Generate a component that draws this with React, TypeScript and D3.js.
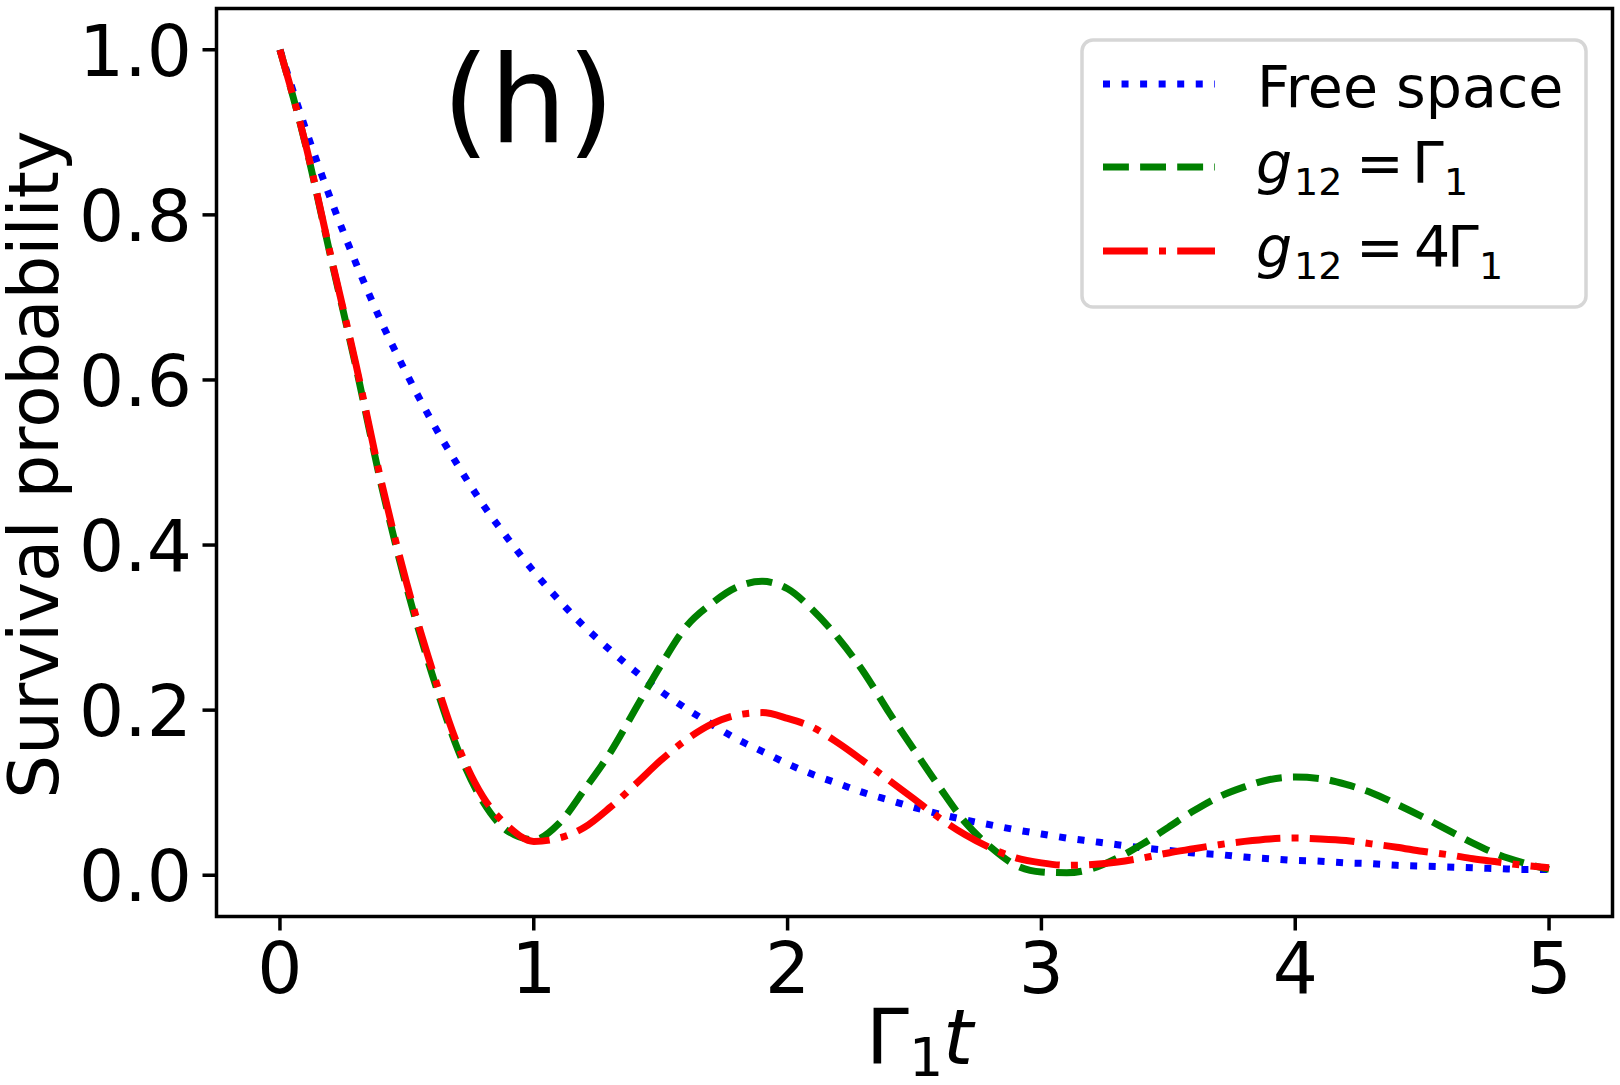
import { useRef, useEffect } from 'react';
import * as d3 from 'd3';

// Γ1 t sampling grid
const times = [
  0.0, 0.1, 0.2, 0.3, 0.4, 0.5, 0.6, 0.7, 0.8, 0.9,
  1.0, 1.1, 1.2, 1.3, 1.4, 1.5, 1.6, 1.7, 1.8, 1.9,
  2.0, 2.1, 2.2, 2.3, 2.4, 2.5, 2.6, 2.7, 2.8, 2.9,
  3.0, 3.1, 3.2, 3.3, 3.4, 3.5, 3.6, 3.7, 3.8, 3.9,
  4.0, 4.1, 4.2, 4.3, 4.4, 4.5, 4.6, 4.7, 4.8, 4.9,
  5.0,
];

const freeSpace = [
  1.0, 0.905, 0.819, 0.741, 0.67, 0.607, 0.549, 0.497, 0.449, 0.407,
  0.368, 0.333, 0.301, 0.273, 0.247, 0.223, 0.202, 0.183, 0.165, 0.15,
  0.135, 0.122, 0.111, 0.1, 0.091, 0.082, 0.074, 0.067, 0.061, 0.055,
  0.05, 0.045, 0.041, 0.037, 0.033, 0.03, 0.027, 0.025, 0.022, 0.02,
  0.018, 0.017, 0.015, 0.014, 0.012, 0.011, 0.01, 0.009, 0.008, 0.007,
  0.007,
];

const couplingOne = [
  1.0, 0.886, 0.749, 0.615, 0.472, 0.348, 0.243, 0.153, 0.089, 0.053,
  0.043, 0.063, 0.104, 0.148, 0.201, 0.254, 0.301, 0.329, 0.349, 0.356,
  0.347, 0.321, 0.287, 0.246, 0.197, 0.151, 0.106, 0.064, 0.034, 0.012,
  0.004, 0.003, 0.008, 0.021, 0.038, 0.058, 0.078, 0.095, 0.107, 0.116,
  0.119, 0.117, 0.11, 0.1, 0.086, 0.071, 0.055, 0.039, 0.025, 0.015,
  0.007,
];

const couplingFour = [
  1.0, 0.887, 0.751, 0.618, 0.476, 0.353, 0.249, 0.158, 0.095, 0.059,
  0.041, 0.045, 0.058, 0.082, 0.11, 0.139, 0.164, 0.183, 0.194, 0.197,
  0.19, 0.179, 0.16, 0.138, 0.115, 0.092, 0.069, 0.049, 0.033, 0.021,
  0.015, 0.012, 0.013, 0.016, 0.021, 0.027, 0.032, 0.037, 0.041, 0.044,
  0.045, 0.044, 0.042, 0.038, 0.034, 0.029, 0.025, 0.02, 0.016, 0.012,
  0.009,
];

const xTicks = [0, 1, 2, 3, 4, 5];
const yTicks = [0, 0.2, 0.4, 0.6, 0.8, 1.0];
const yTickLabels = ['0.0', '0.2', '0.4', '0.6', '0.8', '1.0'];

const FONT = '"DejaVu Sans", sans-serif';
const LW = 7;

const series = [
  { key: 'free', values: freeSpace, color: '#0000ff', dash: `${LW} ${LW * 1.65}` },
  { key: 'g1', values: couplingOne, color: '#008000', dash: `${LW * 3.7} ${LW * 1.6}` },
  { key: 'g4', values: couplingFour, color: '#ff0000', dash: `${LW * 6.4} ${LW * 1.6} ${LW} ${LW * 1.6}` },
];

export default function App() {
  const svgRef = useRef<SVGSVGElement>(null);

  useEffect(() => {
    if (!svgRef.current) return;
    const svg = d3.select(svgRef.current);
    svg.selectAll('*').remove();

    const left = 216.5;
    const right = 1612.5;
    const top = 8.5;
    const bottom = 916.5;

    const x = d3.scaleLinear().domain([-0.25, 5.25]).range([left, right]);
    const y = d3.scaleLinear().domain([-0.05, 1.05]).range([bottom, top]);

    svg.append('rect').attr('width', 1620).attr('height', 1085).attr('fill', '#fff');

    svg.append('defs').append('clipPath').attr('id', 'plot-clip')
      .append('rect')
      .attr('x', left).attr('y', top)
      .attr('width', right - left).attr('height', bottom - top);

    const line = d3.line<number>()
      .x((_, i) => x(times[i]))
      .y((d) => y(d))
      .curve(d3.curveMonotoneX);

    const plot = svg.append('g').attr('clip-path', 'url(#plot-clip)');
    series.forEach((s) => {
      plot.append('path')
        .attr('d', line(s.values))
        .attr('fill', 'none')
        .attr('stroke', s.color)
        .attr('stroke-width', LW)
        .attr('stroke-dasharray', s.dash)
        .attr('stroke-linecap', 'butt')
        .attr('stroke-linejoin', 'round');
    });

    // frame
    svg.append('rect')
      .attr('x', left).attr('y', top)
      .attr('width', right - left).attr('height', bottom - top)
      .attr('fill', 'none')
      .attr('stroke', '#000')
      .attr('stroke-width', 3.5);

    // x ticks
    const xAxis = svg.append('g');
    xTicks.forEach((t) => {
      xAxis.append('line')
        .attr('x1', x(t)).attr('x2', x(t))
        .attr('y1', bottom).attr('y2', bottom + 14)
        .attr('stroke', '#000').attr('stroke-width', 3.5);
      xAxis.append('text')
        .attr('x', x(t)).attr('y', 993)
        .attr('text-anchor', 'middle')
        .style('font-family', FONT).style('font-size', '71px')
        .attr('fill', '#000')
        .text(String(t));
    });

    // y ticks
    const yAxis = svg.append('g');
    yTicks.forEach((v, i) => {
      yAxis.append('line')
        .attr('x1', left - 14).attr('x2', left)
        .attr('y1', y(v)).attr('y2', y(v))
        .attr('stroke', '#000').attr('stroke-width', 3.5);
      yAxis.append('text')
        .attr('x', 192).attr('y', y(v) + 26)
        .attr('text-anchor', 'end')
        .style('font-family', FONT).style('font-size', '71px')
        .attr('fill', '#000')
        .text(yTickLabels[i]);
    });

    // axis titles
    svg.append('text')
      .attr('transform', `translate(58, ${(top + bottom) / 2 + 2}) rotate(-90)`)
      .attr('text-anchor', 'middle')
      .style('font-family', FONT).style('font-size', '69px')
      .attr('fill', '#000')
      .text('Survival probability');

    const xt = svg.append('text')
      .style('font-family', FONT).attr('fill', '#000');
    xt.append('tspan').attr('x', 866).attr('y', 1064).style('font-size', '77px').text('Γ');
    xt.append('tspan').attr('x', 909).attr('y', 1076).style('font-size', '54px').text('1');
    xt.append('tspan').attr('x', 943).attr('y', 1064).style('font-size', '77px')
      .style('font-style', 'italic').text('t');

    // panel tag
    svg.append('text')
      .attr('x', 442).attr('y', 142)
      .style('font-family', FONT).style('font-size', '122px')
      .attr('fill', '#000')
      .text('(h)');

    // legend
    const lg = svg.append('g');
    lg.append('rect')
      .attr('x', 1082).attr('y', 40)
      .attr('width', 504).attr('height', 267)
      .attr('rx', 11)
      .attr('fill', '#fff')
      .attr('stroke', '#d6d6d6')
      .attr('stroke-width', 3.5);

    const rowY = [84, 167, 251];
    series.forEach((s, i) => {
      lg.append('line')
        .attr('x1', 1103).attr('x2', 1215)
        .attr('y1', rowY[i]).attr('y2', rowY[i])
        .attr('stroke', s.color)
        .attr('stroke-width', LW)
        .attr('stroke-dasharray', s.dash);
    });

    lg.append('text')
      .attr('x', 1257).attr('y', 107)
      .style('font-family', FONT).style('font-size', '57px')
      .attr('fill', '#000')
      .text('Free space');

    const mathRow = (base: number, parts: { t: string; x: number; sub?: boolean; it?: boolean }[]) => {
      const txt = lg.append('text').style('font-family', FONT).attr('fill', '#000');
      parts.forEach((p) => {
        const ts = txt.append('tspan')
          .attr('x', p.x)
          .attr('y', p.sub ? base + 12 : base)
          .style('font-size', p.sub ? '38px' : '57px')
          .text(p.t);
        if (p.it) ts.style('font-style', 'italic');
      });
    };

    mathRow(183, [
      { t: 'g', x: 1256, it: true },
      { t: '12', x: 1294, sub: true },
      { t: '=', x: 1356 },
      { t: 'Γ', x: 1412 },
      { t: '1', x: 1444, sub: true },
    ]);
    mathRow(267, [
      { t: 'g', x: 1256, it: true },
      { t: '12', x: 1294, sub: true },
      { t: '=', x: 1356 },
      { t: '4', x: 1414 },
      { t: 'Γ', x: 1447 },
      { t: '1', x: 1479, sub: true },
    ]);
  }, []);

  return (
    <svg
      ref={svgRef}
      width={1620}
      height={1085}
      style={{ position: 'absolute', left: 0, top: 0, display: 'block' }}
    />
  );
}
